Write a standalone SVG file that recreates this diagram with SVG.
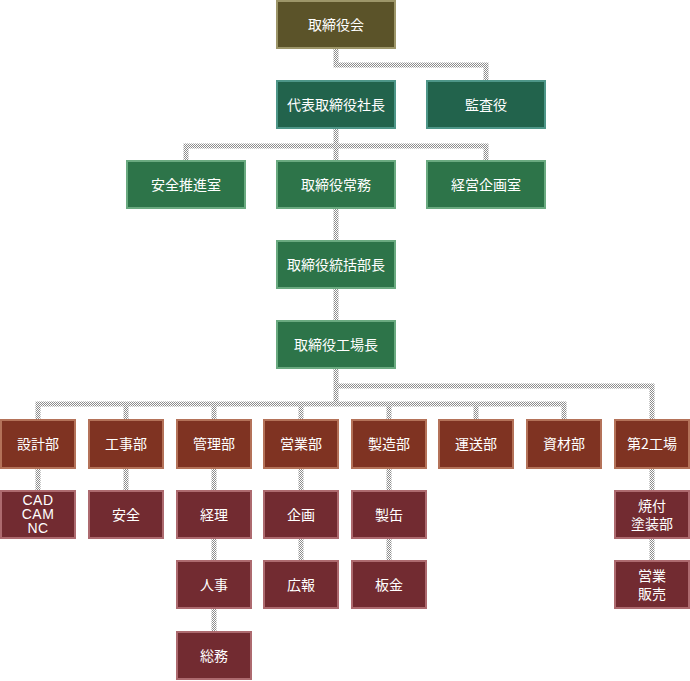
<svg xmlns="http://www.w3.org/2000/svg" width="690" height="681" viewBox="0 0 690 681">
<defs>
<pattern id="chk" width="2" height="2" patternUnits="userSpaceOnUse">
<rect width="2" height="2" fill="#ffffff"/>
<rect x="0" y="0" width="1" height="1" fill="#8c8c8c"/>
<rect x="1" y="1" width="1" height="1" fill="#8c8c8c"/>
</pattern>
</defs>
<style>
rect{stroke-width:2}
.olive rect{fill:#5b5329;stroke:#9d9669}
.teal rect{fill:#22634c;stroke:#4e9688}
.green rect{fill:#2d7449;stroke:#6aaa80}
.dept rect{fill:#7f3322;stroke:#b47259}
.sub rect{fill:#722b31;stroke:#ad6a6f}
text{font-family:"Noto Sans CJK JP","Liberation Sans",sans-serif;font-size:14px;fill:#ffffff;text-anchor:middle}
.lat{font-family:"Liberation Sans","Noto Sans CJK JP",sans-serif;font-size:14px;letter-spacing:0.5px}
#connectors path{fill:none;stroke:url(#chk);stroke-width:5;stroke-linejoin:miter}
</style>
<g id="connectors">
<path d="M336 49V65H486V80"/>
<path d="M336 129V160"/>
<path d="M186 160V146H486V160"/>
<path d="M336 209V240"/>
<path d="M336 289V320"/>
<path d="M336 369V404"/>
<path d="M38 420V404H564V420"/>
<path d="M126 404V420M214 404V420M301 404V420M389 404V420M476 404V420"/>
<path d="M336 386H652V420"/>
<path d="M38 469V490M126 469V490M214 469V490M301 469V490M389 469V490M652 469V490"/>
<path d="M214 539V560M301 539V560M389 539V560M652 539V560M214 609V631"/>
</g>
<g id="n1" class="olive"><rect x="277" y="1" width="118" height="47"/><text x="336" y="30">取締役会</text></g>
<g id="n2" class="teal"><rect x="277" y="81" width="118" height="47"/><text x="336" y="110">代表取締役社長</text></g>
<g id="n3" class="teal"><rect x="427" y="81" width="118" height="47"/><text x="486" y="110">監査役</text></g>
<g id="n4" class="green"><rect x="127" y="161" width="118" height="47"/><text x="186" y="190">安全推進室</text></g>
<g id="n5" class="green"><rect x="277" y="161" width="118" height="47"/><text x="336" y="190">取締役常務</text></g>
<g id="n6" class="green"><rect x="427" y="161" width="118" height="47"/><text x="486" y="190">経営企画室</text></g>
<g id="n7" class="green"><rect x="277" y="241" width="118" height="47"/><text x="336" y="270">取締役統括部長</text></g>
<g id="n8" class="green"><rect x="277" y="321" width="118" height="47"/><text x="336" y="350">取締役工場長</text></g>
<g id="d1" class="dept"><rect x="1" y="420" width="74" height="48"/><text x="38" y="449">設計部</text></g>
<g id="d2" class="dept"><rect x="89" y="420" width="74" height="48"/><text x="126" y="449">工事部</text></g>
<g id="d3" class="dept"><rect x="177" y="420" width="74" height="48"/><text x="214" y="449">管理部</text></g>
<g id="d4" class="dept"><rect x="264" y="420" width="74" height="48"/><text x="301" y="449">営業部</text></g>
<g id="d5" class="dept"><rect x="352" y="420" width="74" height="48"/><text x="389" y="449">製造部</text></g>
<g id="d6" class="dept"><rect x="439" y="420" width="74" height="48"/><text x="476" y="449">運送部</text></g>
<g id="d7" class="dept"><rect x="527" y="420" width="74" height="48"/><text x="564" y="449">資材部</text></g>
<g id="d8" class="dept"><rect x="615" y="420" width="74" height="48"/><text x="652" y="449">第2工場</text></g>
<g id="s1" class="sub"><rect x="1" y="491" width="74" height="47"/><text class="lat" x="38" y="505">CAD</text><text class="lat" x="38" y="519">CAM</text><text class="lat" x="38" y="533">NC</text></g>
<g id="s2" class="sub"><rect x="89" y="491" width="74" height="47"/><text x="126" y="520">安全</text></g>
<g id="s3" class="sub"><rect x="177" y="491" width="74" height="47"/><text x="214" y="520">経理</text></g>
<g id="s4" class="sub"><rect x="264" y="491" width="74" height="47"/><text x="301" y="520">企画</text></g>
<g id="s5" class="sub"><rect x="352" y="491" width="74" height="47"/><text x="389" y="520">製缶</text></g>
<g id="s6" class="sub"><rect x="615" y="491" width="74" height="47"/><text x="652" y="511">焼付</text><text x="652" y="529">塗装部</text></g>
<g id="s7" class="sub"><rect x="177" y="561" width="74" height="47"/><text x="214" y="590">人事</text></g>
<g id="s8" class="sub"><rect x="264" y="561" width="74" height="47"/><text x="301" y="590">広報</text></g>
<g id="s9" class="sub"><rect x="352" y="561" width="74" height="47"/><text x="389" y="590">板金</text></g>
<g id="s10" class="sub"><rect x="615" y="561" width="74" height="47"/><text x="652" y="581">営業</text><text x="652" y="599">販売</text></g>
<g id="s11" class="sub"><rect x="177" y="632" width="74" height="47"/><text x="214" y="661">総務</text></g>
</svg>
